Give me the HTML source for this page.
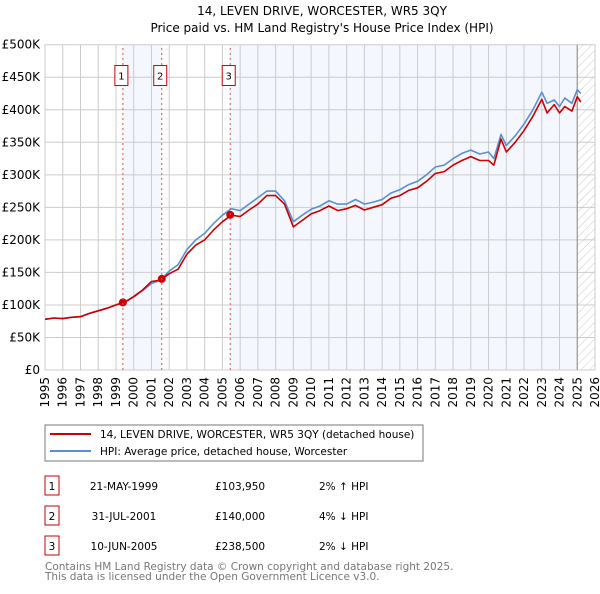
<!DOCTYPE html>
<html><head><meta charset="utf-8"><style>
body{margin:0;background:#fff;font-family:"DejaVu Sans","Liberation Sans",sans-serif;}
svg text{font-family:"DejaVu Sans","Liberation Sans",sans-serif;}
</style></head><body>
<svg id="chart" width="600" height="590" xmlns="http://www.w3.org/2000/svg">
<defs><pattern id="hatch" width="6" height="6" patternUnits="userSpaceOnUse" patternTransform="rotate(45)"><line x1="0" y1="0" x2="0" y2="6" stroke="#bbb" stroke-width="0.8"/></pattern></defs>
<text x="322" y="15" text-anchor="middle" font-size="12" fill="#000">14, LEVEN DRIVE, WORCESTER, WR5 3QY</text>
<text x="322" y="32" text-anchor="middle" font-size="12" fill="#000">Price paid vs. HM Land Registry's House Price Index (HPI)</text>
<g id="bg"></g><g id="grid"></g><g id="lines"></g><g id="marks"></g><g id="axes"></g>
<rect x="45" y="425" width="378" height="36" fill="#fff" stroke="#777"/>
<line x1="50" y1="434" x2="91" y2="434" stroke="#cc0000" stroke-width="2"/>
<text x="100" y="438" font-size="10.5">14, LEVEN DRIVE, WORCESTER, WR5 3QY (detached house)</text>
<line x1="50" y1="451" x2="91" y2="451" stroke="#5b8fd0" stroke-width="2"/>
<text x="100" y="455" font-size="10.5">HPI: Average price, detached house, Worcester</text>
<g id="table" font-size="10.5"></g>
<text x="45" y="570" font-size="10.5" fill="#777">Contains HM Land Registry data © Crown copyright and database right 2025.</text>
<text x="45" y="580" font-size="10.5" fill="#777">This data is licensed under the Open Government Licence v3.0.</text>
</svg>
<script>
const hpiYears=[1995,1995.5,1996,1996.5,1997,1997.5,1998,1998.5,1999,1999.5,2000,2000.5,2001,2001.5,2002,2002.5,2003,2003.5,2004,2004.5,2005,2005.5,2006,2006.5,2007,2007.5,2008,2008.5,2009,2009.5,2010,2010.5,2011,2011.5,2012,2012.5,2013,2013.5,2014,2014.5,2015,2015.5,2016,2016.5,2017,2017.5,2018,2018.5,2019,2019.5,2020,2020.3,2020.7,2021,2021.5,2022,2022.5,2023,2023.3,2023.7,2024,2024.3,2024.7,2025,2025.2];
const hpiValues=[78,80,79,81,82,87,91,95,100,105,112,122,133,138,152,162,185,200,210,225,238,248,245,255,265,275,275,260,228,238,247,252,260,255,255,262,255,258,262,272,277,285,290,300,312,315,325,333,338,332,335,325,362,345,360,378,400,427,410,415,405,418,410,431,425];
const priceValues=[78,80,79,81,82,87,91,95,100,104,113,123,136,138,148,155,178,192,200,215,228,238,236,246,255,268,268,255,220,230,240,245,252,245,248,253,246,250,254,264,268,276,280,290,302,305,315,322,328,322,322,315,355,335,350,368,390,416,395,408,395,405,398,420,412];
const saleLabels=["1","2","3"];
const saleYears=[1999.39,2001.58,2005.44];
const salePrices=[103950,140000,238500];
const saleDates=["21-MAY-1999","31-JUL-2001","10-JUN-2005"];
const saleAmounts=["£103,950","£140,000","£238,500"];
const saleDiffs=["2% ↑ HPI","4% ↓ HPI","2% ↓ HPI"];
const yTicks=[0,50,100,150,200,250,300,350,400,450,500];
const yTickLabels=["£0","£50K","£100K","£150K","£200K","£250K","£300K","£350K","£400K","£450K","£500K"];
const xTicks=[1995,1996,1997,1998,1999,2000,2001,2002,2003,2004,2005,2006,2007,2008,2009,2010,2011,2012,2013,2014,2015,2016,2017,2018,2019,2020,2021,2022,2023,2024,2025,2026];
const dataEnd=2025.0;

const X=y=>45+(y-1995)*(550/31);
const Y=v=>370-v*(325.3/500);
const NS="http://www.w3.org/2000/svg";
function mk(parent,tag,attrs){const e=document.createElementNS(NS,tag);for(const k in attrs)e.setAttribute(k,attrs[k]);document.getElementById(parent).appendChild(e);return e;}

let r;
r=mk('bg','rect',{x:X(saleYears[0]),y:Y(500),width:X(saleYears[1])-X(saleYears[0]),height:Y(0)-Y(500),fill:'#f4f7fe'});


r=mk('bg','rect',{x:X(saleYears[2]),y:Y(500),width:X(dataEnd)-X(saleYears[2]),height:Y(0)-Y(500),fill:'#f4f7fe'});


r=mk('bg','rect',{x:X(dataEnd),y:Y(500),width:X(2026)-X(dataEnd),height:Y(0)-Y(500),fill:'url(#hatch)'});



yTicks.forEach((t,i)=>{
  let l=mk('grid','line',{x1:45,x2:X(2026),y1:Y(t),y2:Y(t),stroke:'#ccc'});
  
  
  let tx=mk('axes','text',{x:40,y:Y(t)+4,'text-anchor':'end','font-size':'12'});
  tx.textContent=yTickLabels[i];
  
  
});
xTicks.forEach(t=>{
  let l=mk('grid','line',{x1:X(t),x2:X(t),y1:Y(0),y2:Y(500),stroke:'#ccc'});
  
  
  let tx=mk('axes','text',{x:0,y:0,'text-anchor':'end','font-size':'12',transform:`translate(${X(t)+4},377) rotate(-90)`});
  tx.textContent=t;
  
  
});
r=mk('grid','line',{x1:X(dataEnd),x2:X(dataEnd),y1:Y(0),y2:Y(500),stroke:'#999','stroke-width':1.2});



saleYears.forEach((s,i)=>{
  let l=mk('marks','line',{x1:X(s),x2:X(s),y1:Y(0),y2:Y(500),stroke:'#e05050','stroke-dasharray':'2,3','stroke-width':1});
  
  
  let b=mk('marks','rect',{x:X(s)-8,y:Y(468),width:13,height:20,fill:'#fff',stroke:'#cc0000'});
  
  
  let t=mk('marks','text',{x:X(s)-1.5,y:Y(468)+14,'text-anchor':'middle','font-size':'10'});
  t.textContent=saleLabels[i];
  
  
});

function path(vals,color,name){
  let d=hpiYears.map((y,i)=>(i?'L':'M')+X(y).toFixed(1)+','+Y(vals[i]).toFixed(1)).join('');
  let p=mk('lines','path',{d:d,fill:'none',stroke:color,'stroke-width':1.6,'stroke-linejoin':'round'});
  
  
}
path(hpiValues,'#5b8fd0','hpi-line');
path(priceValues,'#cc0000','price-paid-line');

saleYears.forEach((s,i)=>{
  let c=mk('lines','circle',{cx:X(s),cy:Y(salePrices[i]/1000),r:4,fill:'#cc0000'});
  
  
});

saleLabels.forEach((lab,i)=>{
  const y0=476+i*30;
  let b=mk('table','rect',{x:45,y:y0,width:14,height:19,fill:'#fff',stroke:'#cc0000'});
  
  
  const vals=[[52,lab,'middle'],[124,saleDates[i],'middle'],[215,saleAmounts[i],'start'],[319,saleDiffs[i],'start']];
  vals.forEach(v=>{
    let t=mk('table','text',{x:v[0],y:y0+14,'text-anchor':v[2]});
    t.textContent=v[1];
    
    
  });
});
</script>
</body></html>
